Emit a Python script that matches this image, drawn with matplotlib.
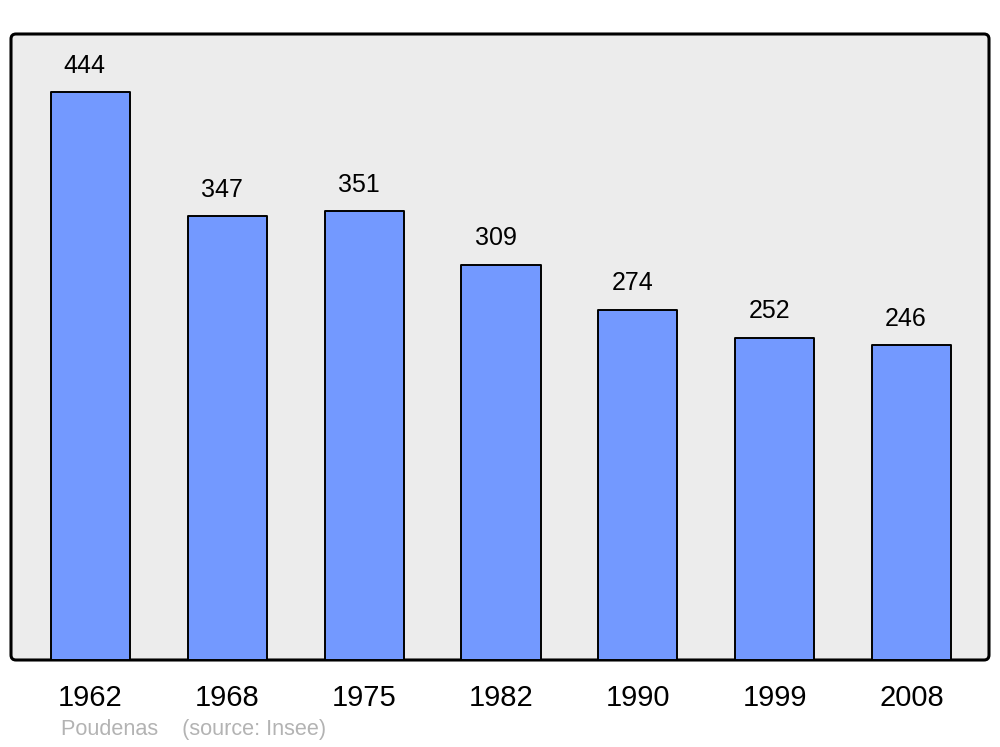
import matplotlib
matplotlib.use("Agg")
import matplotlib.pyplot as plt
from matplotlib.patches import FancyBboxPatch

years = ["1962", "1968", "1975", "1982", "1990", "1999", "2008"]
population = [444, 347, 351, 309, 274, 252, 246]
caption = "Poudenas    (source: Insee)"

plt.rcParams['font.family'] = ['Liberation Sans', 'DejaVu Sans']

W, H = 1000, 747
fig = plt.figure(figsize=(W / 100, H / 100), dpi=100)
left, right, top, bottom = 11, 989, 34, 660
ax = fig.add_axes([left / W, (H - bottom) / H, (right - left) / W, (bottom - top) / H])
ax.set_facecolor('none')
for s in ax.spines.values():
    s.set_visible(False)

aw, ah = right - left, bottom - top
r = 5
frame = FancyBboxPatch((0, 0), 1, 1, boxstyle=f"round,pad=0,rounding_size={r / aw}",
                       mutation_aspect=aw / ah, transform=ax.transAxes,
                       facecolor='#ececec', edgecolor='black', linewidth=2.2,
                       zorder=0, clip_on=False)
ax.add_patch(frame)

x = list(range(len(years)))
bars = ax.bar(x, population, width=0.578, color='#7399ff', edgecolor='black',
              linewidth=1.4, zorder=2)
for b in bars:
    b.set_joinstyle('round')

for xi, v in zip(x, population):
    ax.annotate(str(v), (xi, v), xytext=(-4, 14), textcoords='offset points',
                ha='center', va='baseline', fontsize=18, color='black')

ax.set_xlim(-0.58, 6.565)
ax.set_ylim(0, 489.4)
ax.set_xticks(x)
ax.set_xticklabels(years, fontsize=21)
ax.tick_params(axis='x', length=0, pad=17)
ax.set_yticks([])

fig.text(61 / W, 1 - 730 / H, caption, fontsize=15.6, color='#b3b3b3',
         ha='left', va='center')

fig.savefig("out.png", dpi=100)
